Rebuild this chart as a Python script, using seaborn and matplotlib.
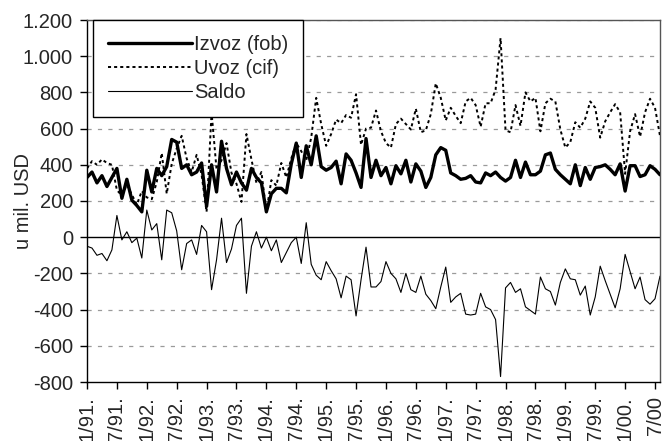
import numpy as np
import pandas as pd
import matplotlib
matplotlib.use("Agg")
import matplotlib.pyplot as plt
from matplotlib.ticker import FuncFormatter
import seaborn as sns

# ---------------- data (monthly, 1/91 .. 8/00), mil. USD ----------------
izvoz = [330, 360, 300, 340, 280, 330, 380, 215, 320, 205, 175, 140,
         370, 250, 380, 340, 390, 540, 525, 380, 400, 345, 360, 410,
         170, 400, 250, 530, 380, 290, 360, 300, 260, 380, 330, 300,
         140, 240, 270, 270, 245, 405, 520, 330, 505, 400, 560, 390,
         370, 385, 420, 295, 460, 425, 355, 275, 545, 330, 425, 340,
         385, 295, 395, 350, 425, 305, 405, 365, 275, 330, 455, 495,
         480, 355, 340, 320, 325, 340, 305, 300, 355, 340, 360, 330,
         310, 330, 425, 330, 415, 345, 345, 365, 455, 465, 375, 345,
         320, 295, 400, 285, 385, 320, 385, 390, 400, 375, 345, 405,
         255, 395, 395, 335, 345, 395, 375, 345]

uvoz = [380, 420, 400, 430, 410, 400, 260, 230, 290, 235, 180, 255,
        220, 210, 305, 465, 240, 405, 490, 560, 435, 360, 455, 345,
        140, 690, 375, 425, 520, 355, 295, 195, 570, 430, 300, 360,
        140, 315, 285, 410, 330, 435, 520, 475, 425, 550, 770, 625,
        505, 570, 650, 630, 675, 660, 790, 510, 600, 605, 700, 585,
        520, 495, 625, 655, 625, 595, 710, 580, 590, 680, 850, 770,
        645, 715, 670, 630, 750, 770, 730, 610, 740, 740, 815, 1100,
        590, 580, 730, 615, 800, 750, 770, 585, 740, 765, 750, 595,
        495, 525, 635, 605, 655, 750, 715, 550, 640, 690, 735, 690,
        350, 585, 680, 555, 690, 765, 715, 560]

saldo = [-50, -60, -100, -90, -130, -70, 120, -15, 30, -30, -5, -115,
         150, 40, 75, -125, 150, 135, 35, -180, -35, -15, -95, 65,
         30, -290, -125, 105, -140, -65, 65, 105, -310, -50, 30, -60,
         0, -75, -15, -140, -85, -30, 0, -145, 80, -150, -210, -235,
         -135, -185, -230, -335, -215, -235, -435, -235, -55, -275, -275, -245,
         -135, -200, -230, -305, -200, -290, -305, -215, -315, -350, -395, -275,
         -165, -360, -330, -310, -425, -430, -425, -310, -385, -400, -455, -770,
         -280, -250, -305, -285, -385, -405, -425, -220, -285, -300, -375, -250,
         -175, -230, -235, -320, -270, -430, -330, -160, -240, -315, -390, -285,
         -95, -190, -285, -220, -345, -370, -340, -215]

tick_labels = ["1/91.", "7/91.", "1/92.", "7/92.", "1/93.", "7/93.", "1/94.",
               "7/94.", "1/95.", "7/95.", "1/96.", "7/96.", "1/97.", "7/97.",
               "1/98.", "7/98.", "1/99.", "7/99.", "1/00.", "7/00"]

series_names = ["Izvoz (fob)", "Uvoz (cif)", "Saldo"]
y_label = "u mil. USD"

# ---------------- style ----------------
sns.set_style("white")
plt.rcParams["font.family"] = ["Liberation Sans", "DejaVu Sans"]
plt.rcParams["lines.scale_dashes"] = False
plt.rcParams["axes.unicode_minus"] = False
FS = 14.5

months = np.arange(len(izvoz))
df = pd.DataFrame({"m": months, "izvoz": izvoz, "uvoz": uvoz, "saldo": saldo})

fig = plt.figure(figsize=(6.64, 4.41), dpi=100)
ax = fig.add_axes([87 / 664, 1 - 382 / 441, (660 - 87) / 664, (382 - 20) / 441])

# grid (horizontal, dashed grey)
for v in range(-600, 1201, 200):
    if v != 0:
        ax.axhline(v, color="#9a9a9a", lw=0.9, ls=(0, (3, 4.5)), zorder=0)
ax.axhline(0, color="black", lw=1.0, zorder=1)

sns.lineplot(data=df, x="m", y="izvoz", ax=ax, color="black", lw=2.4,
             label=series_names[0], zorder=4)
sns.lineplot(data=df, x="m", y="uvoz", ax=ax, color="black", lw=1.4,
             ls=(0, (2.2, 2.2)), label=series_names[1], zorder=3)
sns.lineplot(data=df, x="m", y="saldo", ax=ax, color="black", lw=0.8,
             label=series_names[2], zorder=2)

ax.set_xlim(0, len(izvoz) - 1)
ax.set_ylim(-800, 1200)
ax.set_yticks(range(-800, 1201, 200))
ax.yaxis.set_major_formatter(FuncFormatter(lambda v, p: f"{int(v):,}".replace(",", ".")))
ax.set_xticks(np.arange(0, len(tick_labels) * 6, 6))
ax.set_xticklabels(tick_labels, rotation=90, fontsize=FS)
ax.tick_params(axis="y", labelsize=FS, length=5, width=1, direction="out",
               left=True, color="black", pad=5)
ax.tick_params(axis="x", length=5, width=1, direction="out", bottom=True,
               color="black", pad=5)
ax.set_xlabel("")
ax.set_ylabel(y_label, fontsize=FS)
ax.yaxis.set_label_coords(-0.094, 0.5)

for s in ["left", "bottom"]:
    ax.spines[s].set_color("black")
    ax.spines[s].set_linewidth(1.0)
for s in ["top", "right"]:
    ax.spines[s].set_color("#555555")
    ax.spines[s].set_linewidth(1.0)

leg = ax.legend(loc="upper left", bbox_to_anchor=(0.01, 1.0), borderaxespad=0,
                fontsize=FS, handlelength=4.2, handletextpad=0.08, labelspacing=0.25,
                borderpad=0.75, fancybox=False, framealpha=1, edgecolor="black")
leg.get_frame().set_linewidth(1.0)

fig.savefig("out.png", dpi=100)
